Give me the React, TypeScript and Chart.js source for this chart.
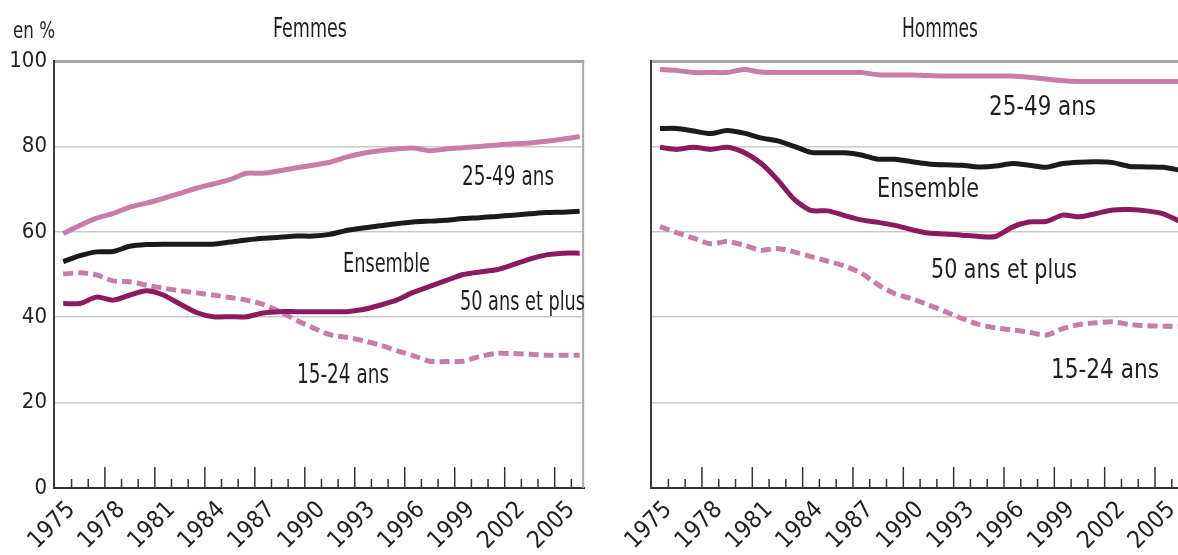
import { useEffect, useRef } from 'react';
import { Chart, registerables } from 'chart.js';

Chart.register(...registerables);

// Tick years (one mark per year) and labelled years
const tickYears = [1975, 1976, 1977, 1978, 1979, 1980, 1981, 1982, 1983, 1984, 1985, 1986, 1987, 1988, 1989, 1990, 1991, 1992, 1993, 1994, 1995, 1996, 1997, 1998, 1999, 2000, 2001, 2002, 2003, 2004, 2005];
const labelYears = [1975, 1978, 1981, 1984, 1987, 1990, 1993, 1996, 1999, 2002, 2005];
const yTickValues = [0, 20, 40, 60, 80, 100];

// Positions of the plotted points along the time axis
const pointPositions = [1974.5, 1975.5, 1976.5, 1977.5, 1978.5, 1979.5, 1980.5, 1981.5, 1982.5, 1983.5, 1984.5, 1985.5, 1986.5, 1987.5, 1988.5, 1989.5, 1990.5, 1991.5, 1992.5, 1993.5, 1994.5, 1995.5, 1996.5, 1997.5, 1998.5, 1999.5, 2000.5, 2001.5, 2002.5, 2003.5, 2004.5, 2005.5];

// Femmes (en %)
const femmes2549 = [59.6, 61.5, 63.2, 64.3, 65.8, 66.7, 67.8, 69.0, 70.2, 71.2, 72.2, 73.7, 73.7, 74.3, 75.0, 75.6, 76.3, 77.5, 78.4, 79.0, 79.4, 79.6, 79.0, 79.4, 79.7, 80.0, 80.3, 80.6, 80.8, 81.2, 81.7, 82.3];
const femmesEnsemble = [53.0, 54.4, 55.3, 55.4, 56.6, 57.0, 57.1, 57.1, 57.1, 57.1, 57.6, 58.1, 58.5, 58.7, 59.0, 59.0, 59.4, 60.3, 60.9, 61.4, 61.9, 62.3, 62.5, 62.7, 63.1, 63.3, 63.6, 63.9, 64.2, 64.5, 64.6, 64.8];
const femmes50 = [43.2, 43.2, 44.7, 44.0, 45.2, 46.2, 45.2, 43.1, 41.1, 40.1, 40.1, 40.1, 41.0, 41.3, 41.3, 41.3, 41.3, 41.3, 41.8, 42.8, 44.0, 45.8, 47.2, 48.6, 50.0, 50.6, 51.1, 52.3, 53.6, 54.6, 55.0, 55.0];
const femmes1524 = [50.1, 50.4, 49.9, 48.5, 48.3, 47.5, 46.8, 46.2, 45.7, 45.2, 44.6, 44.0, 43.0, 41.3, 39.3, 37.5, 35.9, 35.3, 34.5, 33.5, 32.2, 31.0, 29.7, 29.6, 29.7, 30.8, 31.5, 31.5, 31.3, 31.1, 31.1, 31.1];

// Hommes (en %)
const hommes2549 = [98.0, 97.8, 97.3, 97.3, 97.3, 98.0, 97.4, 97.3, 97.3, 97.3, 97.3, 97.3, 97.3, 96.8, 96.7, 96.7, 96.6, 96.5, 96.5, 96.5, 96.5, 96.5, 96.2, 95.8, 95.4, 95.2, 95.2, 95.2, 95.2, 95.2, 95.2, 95.2];
const hommesEnsemble = [84.2, 84.2, 83.6, 83.0, 83.7, 83.1, 82.0, 81.3, 80.0, 78.6, 78.5, 78.5, 78.0, 77.0, 77.0, 76.4, 75.9, 75.7, 75.6, 75.2, 75.4, 76.0, 75.6, 75.1, 76.0, 76.3, 76.4, 76.2, 75.3, 75.2, 75.1, 74.4];
const hommes50 = [79.8, 79.3, 79.8, 79.3, 79.8, 78.6, 76.1, 72.2, 67.6, 65.0, 64.9, 63.8, 62.8, 62.2, 61.5, 60.5, 59.7, 59.5, 59.2, 58.9, 58.9, 61.1, 62.3, 62.4, 63.9, 63.5, 64.3, 65.1, 65.2, 64.9, 64.2, 62.4];
const hommes1524 = [61.2, 59.8, 58.5, 57.2, 57.7, 56.9, 55.7, 56.1, 55.3, 54.2, 53.1, 52.0, 50.3, 47.6, 45.5, 44.3, 42.9, 41.3, 39.7, 38.3, 37.5, 37.0, 36.5, 35.8, 37.3, 38.3, 38.7, 38.9, 38.3, 38.0, 37.9, 37.9];

const FONT = "'DejaVu Sans Condensed', 'Liberation Sans Narrow', sans-serif";
const TEXT = '#231f20';
const PINK = '#c97ca7';
const BLACK = '#1d1a1b';
const PLUM = '#8b1b5d';

type Note = { text: string; x: number; base: number; size: number; width: number; align?: 'left' | 'center' };

type Panel = {
  s2549: number[];
  ens: number[];
  s50: number[];
  s1524: number[];
  xMin: number;
  xMax: number;
  yWidth: number;
  padRight: number;
  showY: boolean;
  rightBorder: boolean;
  notes: Note[];
};

const leftPanel: Panel = {
  s2549: femmes2549,
  ens: femmesEnsemble,
  s50: femmes50,
  s1524: femmes1524,
  xMin: 1973.946,
  xMax: 2005.77,
  yWidth: 54,
  padRight: 12,
  showY: true,
  rightBorder: true,
  notes: [
    { text: 'en %', x: 13, base: 38, size: 23, width: 42 },
    { text: 'Femmes', x: 273, base: 37, size: 27, width: 74 },
    { text: '25-49 ans', x: 462, base: 185, size: 27, width: 92 },
    { text: 'Ensemble', x: 343, base: 272, size: 27, width: 87 },
    { text: '50 ans et plus', x: 460, base: 310, size: 27, width: 125 },
    { text: '15-24 ans', x: 297, base: 383, size: 27, width: 92 },
  ],
};

const rightPanel: Panel = {
  s2549: hommes2549,
  ens: hommesEnsemble,
  s50: hommes50,
  s1524: hommes1524,
  xMin: 1973.946,
  xMax: 2006.085,
  yWidth: 60.7,
  padRight: 20,
  showY: false,
  rightBorder: false,
  notes: [
    { text: 'Hommes', x: 350, base: 37, size: 27, width: 76, align: 'center' },
    { text: '25-49 ans', x: 399, base: 115, size: 27, width: 107 },
    { text: 'Ensemble', x: 287, base: 197, size: 27, width: 102 },
    { text: '50 ans et plus', x: 341, base: 278, size: 27, width: 146 },
    { text: '15-24 ans', x: 461, base: 378, size: 27, width: 108 },
  ],
};

function series(values: number[]) {
  return pointPositions.map((x, i) => ({ x, y: values[i] }));
}

function decor(p: Panel) {
  return {
    id: 'decor',
    beforeDatasetsDraw(chart: any) {
      const { ctx, chartArea } = chart;
      if (p.rightBorder) {
        ctx.save();
        ctx.strokeStyle = '#a9a9a9';
        ctx.lineWidth = 2;
        ctx.beginPath();
        ctx.moveTo(chartArea.right - 1, chartArea.top - 1);
        ctx.lineTo(chartArea.right - 1, chartArea.bottom);
        ctx.stroke();
        ctx.restore();
      }
    },
    afterDraw(chart: any) {
      const { ctx, chartArea } = chart;
      const xs = chart.scales.x;
      ctx.save();
      ctx.strokeStyle = '#333';
      ctx.lineWidth = 1.5;
      tickYears.forEach((yr) => {
        const px = xs.getPixelForValue(yr);
        const len = (yr - 1977) % 3 === 0 ? 21 : 9;
        ctx.beginPath();
        ctx.moveTo(px, chartArea.bottom);
        ctx.lineTo(px, chartArea.bottom - len);
        ctx.stroke();
      });
      ctx.fillStyle = TEXT;
      ctx.textBaseline = 'alphabetic';
      p.notes.forEach((n) => {
        ctx.font = `${n.size}px ${FONT}`;
        const w = ctx.measureText(n.text).width;
        const sx = n.width / w;
        ctx.save();
        const left = n.align === 'center' ? n.x - n.width / 2 : n.x;
        ctx.translate(left, n.base);
        ctx.scale(sx, 1);
        ctx.textAlign = 'left';
        ctx.fillText(n.text, 0, 0);
        ctx.restore();
      });
      ctx.restore();
    },
  };
}

function makeConfig(p: Panel): any {
  return {
    type: 'line',
    data: {
      datasets: [
        { label: '25-49 ans', data: series(p.s2549), borderColor: PINK, borderWidth: 5 },
        { label: 'Ensemble', data: series(p.ens), borderColor: BLACK, borderWidth: 5 },
        { label: '50 ans et plus', data: series(p.s50), borderColor: PLUM, borderWidth: 5 },
        { label: '15-24 ans', data: series(p.s1524), borderColor: PINK, borderWidth: 5, borderDash: [10, 5] },
      ],
    },
    options: {
      responsive: false,
      animation: false,
      devicePixelRatio: 1,
      layout: { padding: { left: 0, right: p.padRight, top: 61, bottom: 0 } },
      elements: {
        point: { radius: 0, hoverRadius: 0 },
        line: { tension: 0.25, borderCapStyle: 'butt', borderJoinStyle: 'round', fill: false },
      },
      plugins: {
        legend: { display: false },
        tooltip: { enabled: false },
        title: { display: false },
      },
      events: [],
      scales: {
        x: {
          type: 'linear',
          min: p.xMin,
          max: p.xMax,
          afterBuildTicks: (s: any) => {
            s.ticks = tickYears.map((v) => ({ value: v }));
          },
          afterFit: (s: any) => {
            s.height = 67;
          },
          grid: { display: false, drawTicks: false },
          border: { display: true, color: '#333', width: 2 },
          ticks: {
            autoSkip: false,
            maxRotation: 45,
            minRotation: 45,
            padding: 8,
            color: TEXT,
            font: { family: FONT, size: 24 },
            callback: (v: number) => (labelYears.includes(v) ? String(v) : ''),
          },
        },
        y: {
          type: 'linear',
          min: 0,
          max: 100,
          afterBuildTicks: (s: any) => {
            s.ticks = yTickValues.map((v) => ({ value: v }));
          },
          afterFit: (s: any) => {
            s.width = p.yWidth;
          },
          grid: {
            drawTicks: false,
            color: (c: any) => (c.tick && c.tick.value === 100 ? '#a6a6a6' : c.tick && c.tick.value === 0 ? 'rgba(0,0,0,0)' : '#c9c9c9'),
            lineWidth: (c: any) => (c.tick && c.tick.value === 100 ? 3 : 1.5),
          },
          border: { display: true, color: '#3a3a3a', width: 2 },
          ticks: {
            display: p.showY,
            padding: 7,
            color: TEXT,
            font: { family: FONT, size: 22 },
          },
        },
      },
    },
    plugins: [decor(p)],
  };
}

export default function App() {
  const leftRef = useRef<HTMLCanvasElement>(null);
  const rightRef = useRef<HTMLCanvasElement>(null);

  useEffect(() => {
    const c1 = new Chart(leftRef.current as HTMLCanvasElement, makeConfig(leftPanel));
    const c2 = new Chart(rightRef.current as HTMLCanvasElement, makeConfig(rightPanel));
    return () => {
      c1.destroy();
      c2.destroy();
    };
  }, []);

  return (
    <div style={{ position: 'fixed', left: 0, top: 0, width: 1178, height: 555, overflow: 'hidden', background: '#fff' }}>
      <canvas ref={leftRef} width={600} height={555} style={{ position: 'absolute', left: 0, top: 0, width: 600, height: 555 }} />
      <canvas ref={rightRef} width={620} height={555} style={{ position: 'absolute', left: 590, top: 0, width: 620, height: 555 }} />
    </div>
  );
}
